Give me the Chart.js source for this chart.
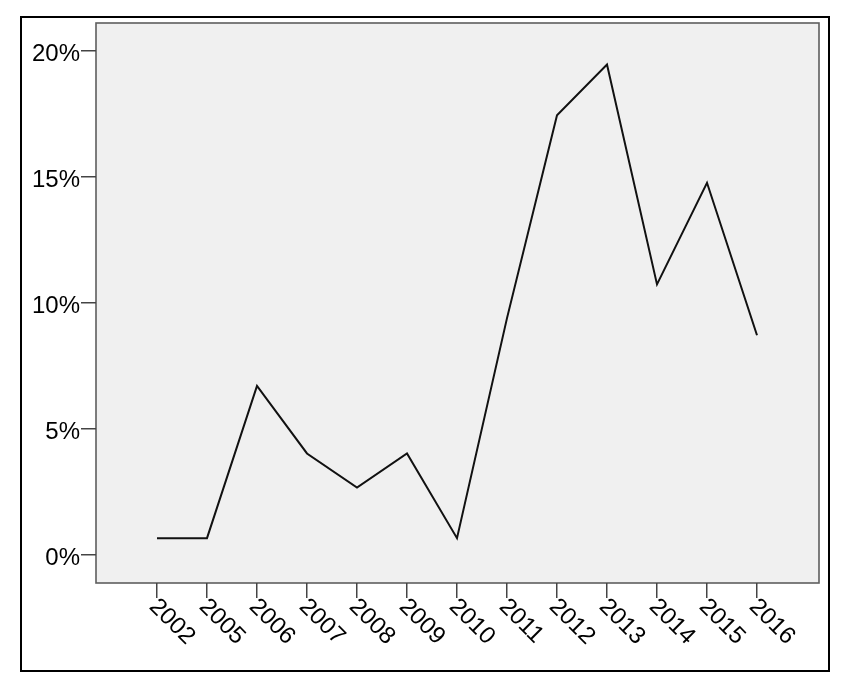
<!DOCTYPE html>
<html>
<head>
<meta charset="utf-8">
<script src="https://cdn.jsdelivr.net/npm/chart.js@4"></script>
<style>
    html, body { margin: 0; padding: 0; background: #fff; }
    #wrap { position: relative; width: 850px; height: 699px; }
    #chart { position: absolute; left: 0; top: 0; }
    #frame {
        position: absolute; left: 20px; top: 16px;
        width: 806px; height: 652px;
        border: 2px solid #000; pointer-events: none;
    }
</style>
</head>
<body>
<div id="wrap">
    <canvas id="chart" width="850" height="699"></canvas>
    <div id="frame"></div>
</div>
<script>
const years = ['2002', '2005', '2006', '2007', '2008', '2009', '2010', '2011', '2012', '2013', '2014', '2015', '2016'];
const shares = [0.67, 0.67, 6.71, 4.03, 2.68, 4.03, 0.67, 9.40, 17.45, 19.46, 10.74, 14.77, 8.72];
const yTicks = [0, 5, 10, 15, 20];

const labelFont = '24px "Liberation Sans", Arial, sans-serif';

// grey plot area with its thin frame
const plotBackground = {
    id: 'plotBackground',
    beforeDraw(chart) {
        const { ctx, chartArea: a } = chart;
        ctx.save();
        ctx.fillStyle = '#f0f0f0';
        ctx.fillRect(a.left, a.top, a.right - a.left, a.bottom - a.top);
        ctx.strokeStyle = '#5e5e5e';
        ctx.lineWidth = 1.6;
        ctx.strokeRect(a.left, a.top, a.right - a.left, a.bottom - a.top);
        ctx.restore();
    }
};

// year labels slanted down to the right, starting at each tick
const slantedLabels = {
    id: 'slantedLabels',
    afterDraw(chart) {
        const { ctx, chartArea: a } = chart;
        const xScale = chart.scales.x;
        ctx.save();
        ctx.font = labelFont;
        ctx.fillStyle = '#000';
        ctx.textAlign = 'left';
        ctx.textBaseline = 'middle';
        years.forEach((yr, i) => {
            const x = xScale.getPixelForValue(i);
            ctx.save();
            ctx.translate(x - 4, a.bottom + 20);
            ctx.rotate(Math.PI / 4);
            ctx.fillText(yr, 0, 0);
            ctx.restore();
        });
        ctx.restore();
    }
};

new Chart(document.getElementById('chart'), {
    type: 'line',
    data: {
        datasets: [{
            data: years.map((_, i) => ({ x: i, y: shares[i] })),
            borderColor: '#111',
            borderWidth: 2,
            pointRadius: 0,
            tension: 0,
            fill: false
        }]
    },
    options: {
        responsive: false,
        animation: false,
        layout: { padding: { top: 23, right: 31, bottom: 0, left: 0 } },
        plugins: {
            legend: { display: false },
            tooltip: { enabled: false }
        },
        scales: {
            x: {
                type: 'linear',
                min: -1.22,
                max: 13.24,
                afterBuildTicks: (scale) => { scale.ticks = years.map((_, i) => ({ value: i })); },
                afterFit: (scale) => { scale.height = 116; },
                ticks: { display: false },
                grid: { drawOnChartArea: false, drawTicks: true, tickLength: 15, color: '#444', lineWidth: 1.5 },
                border: { display: false }
            },
            y: {
                min: -1.11,
                max: 21.11,
                afterBuildTicks: (scale) => { scale.ticks = yTicks.map(v => ({ value: v })); },
                afterFit: (scale) => { scale.width = 96; },
                ticks: {
                    callback: (v) => v + '%',
                    color: '#000',
                    padding: 1,
                    labelOffset: 3,
                    font: { family: '"Liberation Sans", Arial, sans-serif', size: 24 }
                },
                grid: { drawOnChartArea: false, drawTicks: true, tickLength: 15, color: '#444', lineWidth: 1.5 },
                border: { display: false }
            }
        }
    },
    plugins: [plotBackground, slantedLabels]
});
</script>
</body>
</html>
